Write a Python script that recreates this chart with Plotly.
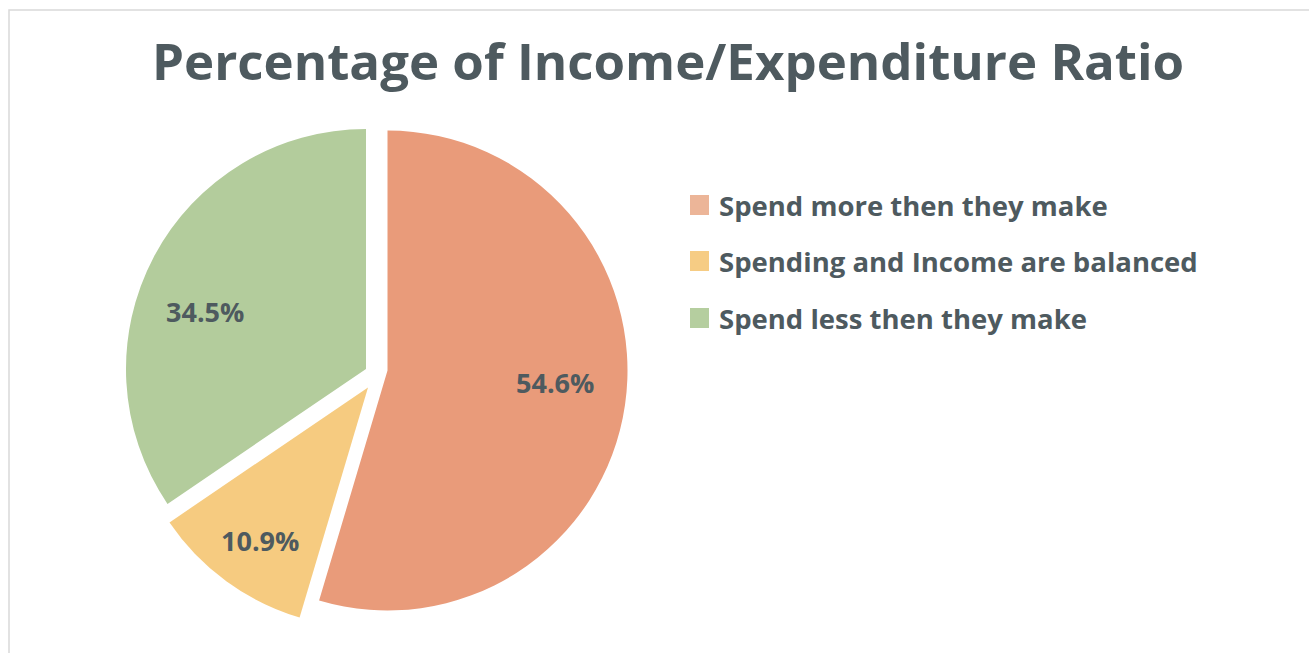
import plotly.graph_objects as go

# Share of respondents by income/expenditure balance
categories = ["Spend more then they make", "Spending and Income are balanced", "Spend less then they make"]
shares = [54.6, 10.9, 34.5]
colors = ["#E99B7A", "#F6CB80", "#B3CC9C"]
legend_colors = ["#ECB598", "#F6CC84", "#B5CE9F"]

W, H = 1309, 653
TEXT = "#4E5A5F"
FONT = "Open Sans"
WEIGHT = "bold"

# exploded layout: pixel centre of the pie, radius, and per-slice offsets
CX, CY, R = 377, 370, 240
offsets = [(10.5, 0.5), (-9, 17.5), (-11, -1)]
label_pos = [(555, 382), (260, 540), (205, 312)]


def px(x):
    return x / W


def py(y):
    return 1 - y / H


fig = go.Figure()
for i, name in enumerate(categories):
    dx, dy = offsets[i]
    ax, ay = CX + dx, CY + dy
    # each trace draws the full pie but only one slice is coloured,
    # so every slice can sit at its own exploded position
    slice_colors = [c if j == i else "rgba(0,0,0,0)" for j, c in enumerate(colors)]
    fig.add_trace(go.Pie(
        labels=categories,
        values=shares,
        sort=False,
        direction="clockwise",
        rotation=0,
        marker=dict(colors=slice_colors, line=dict(width=0)),
        textinfo="none",
        showlegend=False,
        hoverinfo="label+percent",
        domain=dict(x=[px(ax - R), px(ax + R)], y=[py(ay + R), py(ay - R)]),
        name=name,
    ))

shapes = [
    # outer chart frame
    dict(type="rect", xref="paper", yref="paper",
         x0=px(9), x1=1.003, y0=-0.05, y1=py(10),
         line=dict(color="#D9D9D9", width=1.5), fillcolor="rgba(0,0,0,0)", layer="below"),
]
annotations = [
    dict(text="Percentage of Income/Expenditure Ratio", xref="paper", yref="paper",
         x=px(668), y=py(60), xanchor="center", yanchor="middle", showarrow=False,
         font=dict(family=FONT, size=51, color=TEXT, weight=WEIGHT)),
]

# value labels inside the slices
for v, (lx, ly) in zip(shares, label_pos):
    annotations.append(dict(text=f"{v:.1f}%", xref="paper", yref="paper",
                            x=px(lx), y=py(ly), xanchor="center", yanchor="middle",
                            showarrow=False,
                            font=dict(family=FONT, size=27, color=TEXT, weight=WEIGHT)))

# legend rows
row_y = [205, 261, 318]
for name, col, yy in zip(categories, legend_colors, row_y):
    shapes.append(dict(type="rect", xref="paper", yref="paper",
                       x0=px(690), x1=px(709), y0=py(yy + 10), y1=py(yy - 10),
                       line=dict(width=0), fillcolor=col))
    annotations.append(dict(text=name, xref="paper", yref="paper",
                            x=px(717), y=py(yy), xanchor="left", yanchor="middle",
                            showarrow=False,
                            font=dict(family=FONT, size=27.5, color=TEXT, weight=WEIGHT)))

fig.update_layout(
    width=W, height=H,
    margin=dict(l=0, r=0, t=0, b=0),
    paper_bgcolor="white",
    plot_bgcolor="white",
    shapes=shapes,
    annotations=annotations,
)

fig.write_html("out.html")
